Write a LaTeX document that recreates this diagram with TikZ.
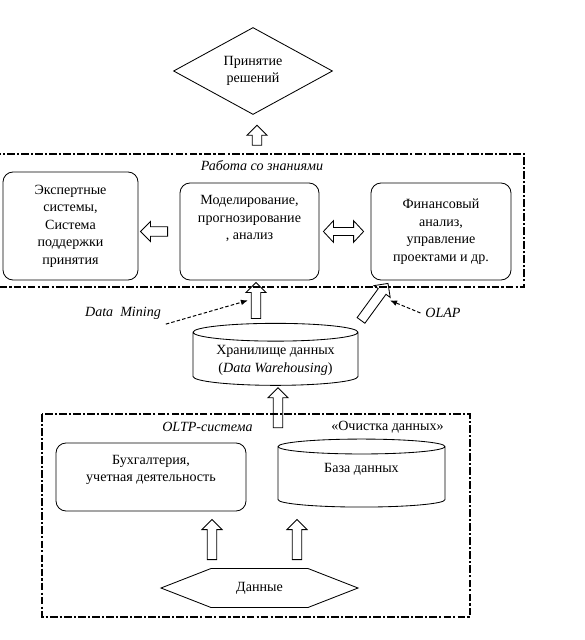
\documentclass[tikz,border=0pt]{standalone}
\usepackage{fontspec}
\setmainfont{Liberation Serif}
\usetikzlibrary{shapes.geometric,shapes.symbols,arrows.meta,calc}

\begin{document}
\begin{tikzpicture}[
  font=\fontsize{10}{12.5}\selectfont,
  box/.style={draw, rounded corners=0.25cm, align=center, line width=0.6pt},
  store/.style={draw, cylinder, shape border rotate=90, aspect=0.15, align=center, line width=0.6pt, inner sep=0pt},
  frame/.style={line width=0.8pt, dash pattern=on 5.5pt off 1.5pt on 1.5pt off 1.5pt},
  hint/.style={line width=0.7pt, dash pattern=on 2.5pt off 1.5pt, -{Latex[length=5pt,width=4pt]}},
  hollow/.style={line width=0.6pt, to path={
    let \p1=(\tikztostart), \p2=(\tikztotarget), \n1={atan2(\y2-\y1,\x2-\x1)} in
    ($(\p1)+(\n1+90:0.12)$) -- ($(\p2)+(\n1+180:0.25)+(\n1+90:0.12)$)
    -- ($(\p2)+(\n1+180:0.25)+(\n1+90:0.25)$) -- (\p2)
    -- ($(\p2)+(\n1+180:0.25)+(\n1-90:0.25)$) -- ($(\p2)+(\n1+180:0.25)+(\n1-90:0.12)$)
    -- ($(\p1)+(\n1-90:0.12)$) -- cycle}},
  hollowboth/.style={line width=0.6pt, to path={
    let \p1=(\tikztostart), \p2=(\tikztotarget), \n1={atan2(\y2-\y1,\x2-\x1)} in
    (\p1) -- ($(\p1)+(\n1:0.25)+(\n1+90:0.27)$) -- ($(\p1)+(\n1:0.25)+(\n1+90:0.1)$)
    -- ($(\p2)+(\n1+180:0.25)+(\n1+90:0.1)$) -- ($(\p2)+(\n1+180:0.25)+(\n1+90:0.27)$) -- (\p2)
    -- ($(\p2)+(\n1+180:0.25)+(\n1-90:0.27)$) -- ($(\p2)+(\n1+180:0.25)+(\n1-90:0.1)$)
    -- ($(\p1)+(\n1:0.25)+(\n1-90:0.1)$) -- ($(\p1)+(\n1:0.25)+(\n1-90:0.27)$) -- cycle}}]
\useasboundingbox (0,0) rectangle (14.6,-16);

% decision
\node[diamond, draw, line width=0.6pt, aspect=1.83, minimum width=3.975cm, minimum height=2.175cm, inner sep=0pt, align=center] (dec) at (6.325,-1.775) {Принятие\\решений};
\draw[hollow] ([shift={(0.1,-0.76)}]dec.south) to ([shift={(0.1,-0.26)}]dec.south);

% knowledge work
\draw[frame] (-0.2,-3.85) rectangle (13.1,-7.175);
\node[font=\fontsize{10}{12.5}\selectfont\itshape] (workl) at (6.55,-4.15) {Работа со знаниями};
\node[box, minimum width=3.375cm, minimum height=2.7cm] (expert) at (1.7625,-5.65) {Экспертные\\системы,\\Система\\поддержки\\принятия};
\node[box, minimum width=3.475cm, minimum height=2.425cm] (model) at (6.2375,-5.7875) {Моделирование,\\прогнозирование\\, анализ\\[0.25cm]\mbox{}};
\node[box, minimum width=3.5cm, minimum height=2.425cm] (finance) at (11.025,-5.7875) {Финансовый\\анализ,\\управление\\проектами и др.};
\draw[hollow] ([xshift=-0.3cm]model.west) to ([xshift=0.05cm]expert.east |- model.west);
\draw[hollowboth] ([xshift=0.1cm]model.east) to ([xshift=-0.175cm]finance.west);

% warehouse
\draw[hollow] ([shift={(0.1625,-0.95)}]model.south) to ([shift={(0.1625,-0.05)}]model.south);
\draw[hollow] ([shift={(-2,-1)}]finance.south) to ([shift={(-1.325,-0.075)}]finance.south);
\node[font=\fontsize{10}{12.5}\selectfont\itshape] (dm) at (3.075,-7.825) {Data~ Mining};
\node[font=\fontsize{10}{12.5}\selectfont\itshape] (olap) at (11.075,-7.825) {OLAP};
\draw[hint] (dm.south east) -- ([shift={(-0.04,-0.5)}]model.south);
\draw[hint] (olap.west) -- ([shift={(-1.275,-0.5)}]finance.south);
\node[store, minimum width=4.125cm, minimum height=1.55cm] (dwh) at (6.8875,-8.975) {\mbox{}\\[-4pt]Хранилище данных\\(\textit{Data Warehousing})};
\draw[hollow] ([shift={(0.0625,-1.05)}]dwh.south) to ([shift={(0.0625,-0.05)}]dwh.south);

% OLTP
\draw[frame] (1.05,-10.35) rectangle (11.75,-15.425);
\node[font=\fontsize{10}{12.5}\selectfont\itshape] (oltpl) at (5.1875,-10.675) {OLTP-система};
\node (clean) at (9.6875,-10.675) {«Очистка данных»};
\node[box, minimum width=4.75cm, minimum height=1.7cm] (acc) at (3.775,-11.925) {Бухгалтерия,\\учетная деятельность\\\mbox{}};
\node[store, aspect=0.2, minimum width=4.175cm, minimum height=1.7cm] (db) at (9.0375,-11.925) {База данных\\\mbox{}};
\node[signal, signal to=east and west, signal pointer angle=42.6, draw, line width=0.6pt, minimum width=4.925cm, minimum height=0.975cm, inner sep=0pt] (data) at (6.4875,-14.7) {Данные};
\draw[hollow] ([shift={(-1.1875,0.2125)}]data.north) to ([shift={(-1.1875,1.2125)}]data.north);
\draw[hollow] ([shift={(0.9375,0.2125)}]data.north) to ([shift={(0.9375,1.2125)}]data.north);
\end{tikzpicture}
\end{document}
